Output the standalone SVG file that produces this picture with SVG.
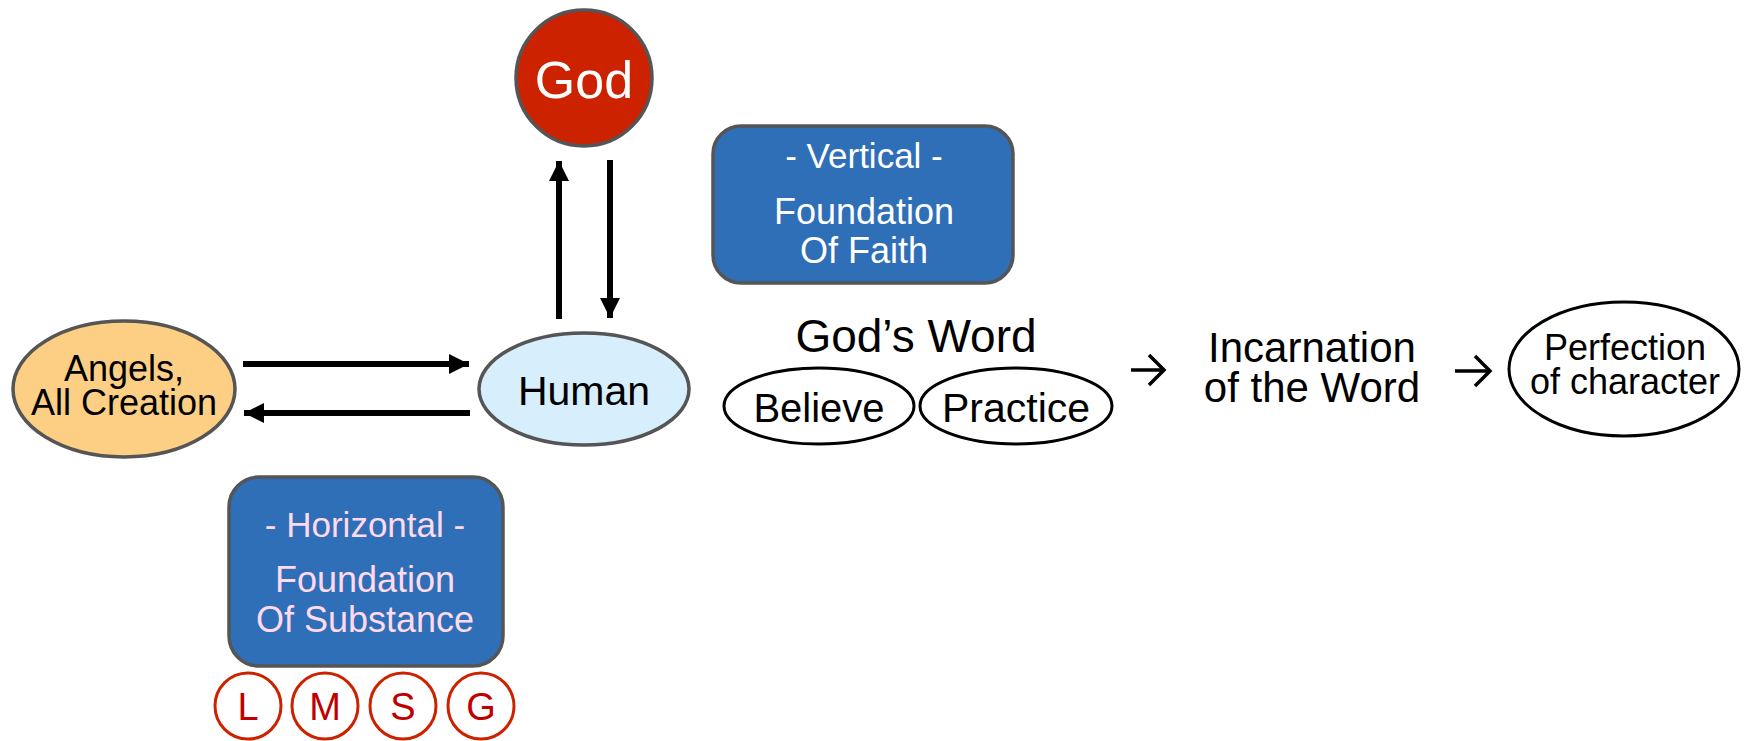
<svg xmlns="http://www.w3.org/2000/svg" width="1747" height="741" viewBox="0 0 1747 741">
<style>
text{font-family:"Liberation Sans",Arial,sans-serif;text-anchor:middle}
.node{stroke:#555555;stroke-width:3.5}
.box{fill:#2F6FB7;stroke:#555555;stroke-width:3.5}
.oval{fill:#FFFFFF;stroke:#000000;stroke-width:3}
.lmsg{fill:#FFFFFF;stroke:#CC2200;stroke-width:3}
.lmsgt{fill:#C00000;font-size:38px}
.conn{stroke:#000000;stroke-width:6;fill:none}
.thin{stroke:#000000;stroke-width:3.5;fill:none;stroke-linecap:butt;stroke-linejoin:miter}
</style>
<defs>
<marker id="ah" markerUnits="userSpaceOnUse" markerWidth="20" markerHeight="20" viewBox="0 0 18 18" refX="18" refY="9" orient="auto">
<path d="M0,0 L18,9 L0,18 Z" fill="#000000"/>
</marker>
</defs>
<rect width="1747" height="741" fill="#FFFFFF"/>
<g id="connectors">
<line class="conn" x1="559" y1="319" x2="559" y2="161" marker-end="url(#ah)"/>
<line class="conn" x1="610" y1="160" x2="610" y2="318" marker-end="url(#ah)"/>
<line class="conn" x1="243" y1="364" x2="469" y2="364" marker-end="url(#ah)"/>
<line class="conn" x1="470" y1="413" x2="244" y2="413" marker-end="url(#ah)"/>
<path class="thin" d="M1131,370 H1163 M1149,355 L1164,370 L1149,385"/>
<path class="thin" d="M1455,371 H1488 M1475,356 L1490,371 L1475,386"/>
</g>
<g id="god">
<circle class="node" cx="584" cy="78" r="68" fill="#CC2200"/>
<text x="584" y="98" font-size="52" fill="#FFFFFF">God</text>
</g>
<g id="angels">
<ellipse class="node" cx="124" cy="389" rx="111" ry="68" fill="#FDCF84"/>
<text x="124" y="381" font-size="36" fill="#000000">Angels,</text>
<text x="124" y="415" font-size="36" fill="#000000">All Creation</text>
</g>
<g id="human">
<ellipse class="node" cx="584" cy="389" rx="105" ry="56" fill="#D7EEFC"/>
<text x="584" y="405" font-size="41" fill="#000000">Human</text>
</g>
<g id="vertical">
<rect class="box" x="713" y="126" width="300" height="157" rx="28"/>
<text x="864" y="168" font-size="35" fill="#FFFFFF">- Vertical -</text>
<text x="864" y="224" font-size="36" fill="#FFFFFF">Foundation</text>
<text x="864" y="263" font-size="36" fill="#FFFFFF">Of Faith</text>
</g>
<g id="horizontal">
<rect class="box" x="229" y="477" width="274" height="189" rx="30"/>
<text x="365" y="537" font-size="35" fill="#FFD9EE">- Horizontal -</text>
<text x="365" y="592" font-size="36" fill="#FFD9EE">Foundation</text>
<text x="365" y="632" font-size="36" fill="#FFD9EE">Of Substance</text>
</g>
<g id="lmsg-l"><circle class="lmsg" cx="248" cy="706" r="33"/><text class="lmsgt" x="248" y="720">L</text></g>
<g id="lmsg-m"><circle class="lmsg" cx="325" cy="706" r="33"/><text class="lmsgt" x="325" y="720">M</text></g>
<g id="lmsg-s"><circle class="lmsg" cx="403" cy="706" r="33"/><text class="lmsgt" x="403" y="720">S</text></g>
<g id="lmsg-g"><circle class="lmsg" cx="481" cy="706" r="33"/><text class="lmsgt" x="481" y="720">G</text></g>
<g id="gods-word">
<text x="916" y="352" font-size="46" fill="#000000">God’s Word</text>
</g>
<g id="believe">
<ellipse class="oval" cx="819" cy="406" rx="95" ry="38"/>
<text x="819" y="422" font-size="40" fill="#000000">Believe</text>
</g>
<g id="practice">
<ellipse class="oval" cx="1016" cy="406" rx="96" ry="38"/>
<text x="1016" y="422" font-size="41" fill="#000000">Practice</text>
</g>
<g id="incarnation">
<text x="1312" y="362" font-size="42" fill="#000000">Incarnation</text>
<text x="1312" y="402" font-size="42" fill="#000000">of the Word</text>
</g>
<g id="perfection">
<ellipse class="oval" cx="1624" cy="369" rx="115" ry="67"/>
<text x="1625" y="360" font-size="36" fill="#000000">Perfection</text>
<text x="1625" y="394" font-size="36" fill="#000000">of character</text>
</g>
</svg>
